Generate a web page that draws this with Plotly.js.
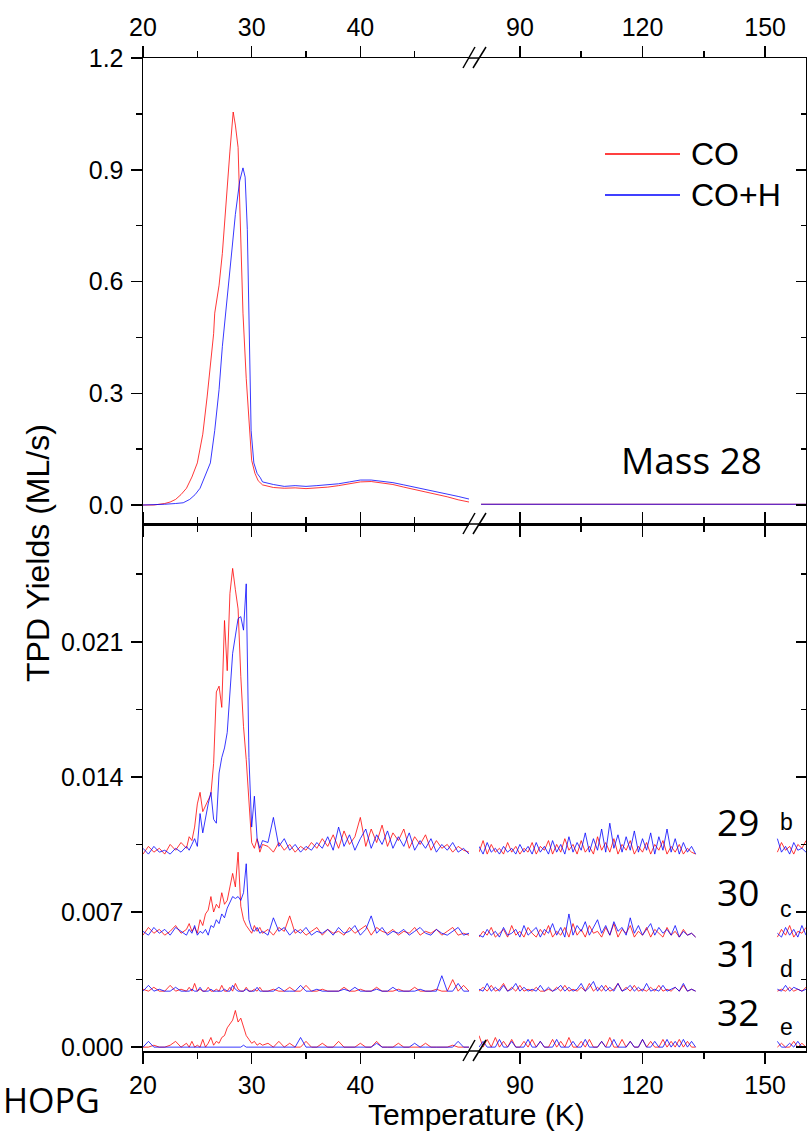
<!DOCTYPE html>
<html>
<head>
<meta charset="utf-8">
<script src="https://cdn.plot.ly/plotly-3.0.1.min.js"></script>
<style>html,body{margin:0;padding:0;background:#fff;}#chart{width:807px;height:1131px;}</style>
</head>
<body>
<div id="chart"></div>
<script>
// ---------------- DATA ----------------
// Mass 28 (top panel), left segment (20-50 K)
const m28_CO_T  = [20,21,22,22.5,23,23.5,24,24.5,25,25.5,25.9,26.2,26.5,26.6,27,27.3,27.7,28,28.3,28.5,28.75,29,29.2,29.5,29.7,30,30.3,30.6,31,32,33,34,35,36,37,38,39,40,41,42,43,44,45,46,47,48,49,50];
const m28_CO_Y  = [0,0,0.004,0.008,0.015,0.028,0.045,0.075,0.113,0.19,0.29,0.38,0.46,0.515,0.59,0.675,0.846,0.95,1.055,1.02,0.96,0.72,0.515,0.34,0.25,0.12,0.085,0.065,0.054,0.047,0.045,0.046,0.044,0.046,0.048,0.052,0.058,0.062,0.063,0.060,0.055,0.048,0.042,0.035,0.029,0.022,0.014,0.008];
const m28_COH_T = [20,21,22,23,23.7,24.3,24.8,25.25,25.7,26.2,26.6,27,27.3,27.6,27.85,28.2,28.5,28.9,29.2,29.4,29.6,29.8,29.95,30.2,30.5,30.8,31,32,33,34,35,36,37,38,39,40,41,42,43,44,45,46,47,48,49,50];
const m28_COH_Y = [0,0,0.002,0.004,0.006,0.015,0.028,0.045,0.075,0.113,0.2,0.31,0.425,0.52,0.6,0.69,0.78,0.87,0.905,0.88,0.74,0.425,0.2,0.113,0.085,0.073,0.062,0.055,0.050,0.052,0.050,0.052,0.054,0.057,0.062,0.067,0.067,0.064,0.060,0.054,0.048,0.042,0.036,0.030,0.023,0.016];
// Mass 28, right segment (80-160 K)
const m28_R_T     = [80.5,100,120,140,160];
const m28_CO_R_Y  = [0.002,0.002,0.002,0.002,0.002];
const m28_COH_R_Y = [0.002,0.002,0.002,0.002,0.002];

// Bottom panel sampling temperatures
const T_L = [20,20.5,21,21.5,22,22.5,23,23.5,24,
  24.25,24.5,24.75,25,25.25,25.5,25.75,
  26,26.25,26.5,26.75,27,27.25,27.5,
  27.75,28,28.25,28.5,28.75,29,29.25,
  29.5,29.75,30,30.25,30.5,30.75,31,
  31.5,32,32.5,33,33.5,34,34.5,35,35.5,36,
  36.5,37,37.5,38,38.5,39,39.5,40,40.5,41,
  41.5,42,42.5,43,43.5,44,44.5,45,45.5,46,
  46.5,47,47.5,48,48.5,49,49.5,50];
const T_R = [80,81,82,83,84,85,86,87,88,89,
  90,91,92,93,94,95,96,97,98,99,
  100,101,102,103,104,105,106,107,108,109,
  110,111,112,113,114,115,116,117,118,119,
  120,121,122,123,124,125,126,127,128,129,
  130,131,132,133];
const T_T = [153,154,155,156,157,158,159,160];

// Mass 29
const m29_CO_L = [0.0100,0.0104,0.0101,0.0103,0.0100,0.0105,0.0102,0.0106,0.0103,
  0.0109,0.0107,0.0114,0.0126,0.0132,0.0122,0.0125,
  0.0128,0.0131,0.0147,0.0184,0.0187,0.0176,0.0221,
  0.0195,0.0235,0.0248,0.0237,0.0227,0.0192,0.0166,
  0.0149,0.0128,0.0106,0.0103,0.0108,0.0101,0.0105,
  0.0104,0.0101,0.0106,0.0102,0.0105,0.0101,0.0104,0.0102,0.0106,0.0103,
  0.0108,0.0104,0.0110,0.0103,0.0112,0.0105,0.0109,0.0119,0.0104,0.0113,
  0.0106,0.0115,0.0104,0.0111,0.0107,0.0113,0.0103,0.0109,0.0105,0.0110,
  0.0102,0.0107,0.0103,0.0105,0.0101,0.0104,0.0102,0.0101];
const m29_COH_L = [0.0103,0.0100,0.0104,0.0101,0.0102,0.0100,0.0103,0.0101,0.0104,
  0.0102,0.0105,0.0108,0.0104,0.0121,0.0111,0.0119,
  0.0126,0.0132,0.0118,0.0116,0.0142,0.0150,0.0155,
  0.0163,0.0184,0.0204,0.0213,0.0222,0.0223,0.0216,
  0.0240,0.0150,0.0114,0.0130,0.0108,0.0103,0.0107,
  0.0106,0.0119,0.0104,0.0108,0.0102,0.0105,0.0101,0.0104,0.0102,0.0106,
  0.0103,0.0109,0.0102,0.0114,0.0104,0.0110,0.0102,0.0108,0.0113,0.0103,
  0.0110,0.0105,0.0112,0.0103,0.0109,0.0104,0.0111,0.0102,0.0107,0.0103,
  0.0108,0.0101,0.0105,0.0102,0.0106,0.0101,0.0103,0.0100];
const m29_CO_R = [0.0101,0.0107,0.0100,0.0105,0.0101,0.0103,0.0100,0.0106,0.0101,0.0104,
  0.0100,0.0103,0.0101,0.0106,0.0100,0.0104,0.0102,0.0107,0.0100,0.0105,
  0.0101,0.0108,0.0102,0.0105,0.0100,0.0107,0.0101,0.0104,0.0100,0.0109,
  0.0102,0.0106,0.0101,0.0108,0.0100,0.0105,0.0102,0.0107,0.0100,0.0104,
  0.0101,0.0106,0.0100,0.0105,0.0102,0.0107,0.0100,0.0104,0.0101,0.0105,
  0.0100,0.0103,0.0101,0.0100];
const m29_COH_R = [0.0104,0.0100,0.0106,0.0101,0.0103,0.0100,0.0104,0.0101,0.0103,0.0100,
  0.0105,0.0101,0.0104,0.0100,0.0106,0.0101,0.0104,0.0100,0.0107,0.0101,
  0.0105,0.0100,0.0109,0.0101,0.0106,0.0102,0.0111,0.0101,0.0108,0.0102,
  0.0113,0.0101,0.0116,0.0103,0.0110,0.0101,0.0109,0.0102,0.0112,0.0101,
  0.0108,0.0102,0.0111,0.0100,0.0109,0.0102,0.0113,0.0101,0.0108,0.0100,
  0.0106,0.0101,0.0104,0.0100];
const m29_CO_T  = [0.0101,0.0106,0.0102,0.0104,0.0100,0.0105,0.0103,0.0107];
const m29_COH_T = [0.0108,0.0101,0.0104,0.0100,0.0106,0.0102,0.0103,0.0101];

// Mass 30
const m30_CO_L = [0.0058,0.0062,0.0059,0.0061,0.0058,0.0060,0.0063,0.0059,0.0061,
  0.0064,0.0060,0.0062,0.0059,0.0066,0.0063,0.0069,
  0.0071,0.0078,0.0070,0.0074,0.0072,0.0080,0.0074,
  0.0076,0.0083,0.0090,0.0083,0.0101,0.0073,0.0066,
  0.0063,0.0061,0.0059,0.0063,0.0060,0.0062,0.0059,
  0.0061,0.0058,0.0062,0.0060,0.0068,0.0059,0.0061,0.0058,0.0060,0.0062,
  0.0058,0.0061,0.0059,0.0060,0.0058,0.0062,0.0059,0.0061,0.0063,0.0058,
  0.0062,0.0060,0.0059,0.0061,0.0058,0.0060,0.0059,0.0062,0.0058,0.0060,
  0.0059,0.0061,0.0058,0.0060,0.0062,0.0058,0.0059,0.0058];
const m30_COH_L = [0.0060,0.0058,0.0062,0.0059,0.0061,0.0058,0.0062,0.0060,0.0058,
  0.0061,0.0059,0.0063,0.0058,0.0060,0.0059,0.0061,
  0.0058,0.0063,0.0062,0.0066,0.0064,0.0069,0.0067,
  0.0072,0.0075,0.0078,0.0077,0.0078,0.0076,0.0080,
  0.0095,0.0066,0.0061,0.0060,0.0062,0.0059,0.0060,
  0.0058,0.0067,0.0060,0.0062,0.0058,0.0061,0.0059,0.0062,0.0058,0.0060,
  0.0059,0.0061,0.0058,0.0062,0.0059,0.0060,0.0063,0.0058,0.0061,0.0068,
  0.0059,0.0062,0.0058,0.0060,0.0059,0.0061,0.0058,0.0060,0.0062,0.0059,
  0.0058,0.0061,0.0059,0.0058,0.0060,0.0062,0.0058,0.0059];
const m30_CO_R = [0.0057,0.0060,0.0058,0.0062,0.0057,0.0059,0.0061,0.0057,0.0063,0.0058,
  0.0060,0.0057,0.0062,0.0059,0.0057,0.0061,0.0058,0.0063,0.0057,0.0060,
  0.0058,0.0062,0.0057,0.0064,0.0058,0.0061,0.0057,0.0063,0.0059,0.0060,
  0.0057,0.0062,0.0058,0.0064,0.0057,0.0061,0.0059,0.0063,0.0057,0.0060,
  0.0058,0.0062,0.0057,0.0061,0.0059,0.0057,0.0062,0.0058,0.0060,0.0057,
  0.0061,0.0058,0.0059,0.0057];
const m30_COH_R = [0.0058,0.0057,0.0061,0.0058,0.0060,0.0057,0.0062,0.0058,0.0059,0.0061,
  0.0057,0.0063,0.0058,0.0060,0.0062,0.0057,0.0061,0.0059,0.0064,0.0058,
  0.0062,0.0057,0.0069,0.0058,0.0063,0.0060,0.0065,0.0058,0.0062,0.0066,
  0.0059,0.0063,0.0058,0.0065,0.0060,0.0062,0.0058,0.0067,0.0059,0.0063,
  0.0058,0.0061,0.0064,0.0058,0.0062,0.0059,0.0061,0.0058,0.0063,0.0057,
  0.0060,0.0058,0.0059,0.0057];
const m30_CO_T  = [0.0057,0.0061,0.0058,0.0063,0.0057,0.0060,0.0059,0.0062];
const m30_COH_T = [0.0059,0.0057,0.0062,0.0058,0.0061,0.0057,0.0063,0.0058];

// Mass 31
const m31_CO_L = [0.0030,0.0029,0.0031,0.0029,0.0029,0.0032,0.0029,0.0030,0.0029,
  0.0031,0.0029,0.0033,0.0029,0.0030,0.0029,0.0029,
  0.0031,0.0029,0.0029,0.0030,0.0029,0.0032,0.0029,
  0.0029,0.0031,0.0029,0.0033,0.0030,0.0029,0.0029,
  0.0031,0.0029,0.0029,0.0030,0.0029,0.0031,0.0029,
  0.0029,0.0030,0.0029,0.0029,0.0031,0.0029,0.0029,0.0032,0.0029,0.0029,
  0.0030,0.0029,0.0029,0.0029,0.0031,0.0029,0.0029,0.0030,0.0029,0.0029,
  0.0031,0.0029,0.0029,0.0029,0.0030,0.0029,0.0029,0.0031,0.0029,0.0029,
  0.0029,0.0030,0.0029,0.0029,0.0035,0.0029,0.0032,0.0029];
const m31_COH_L = [0.0029,0.0032,0.0029,0.0030,0.0029,0.0029,0.0031,0.0029,0.0029,
  0.0029,0.0030,0.0029,0.0029,0.0031,0.0029,0.0029,
  0.0029,0.0030,0.0029,0.0029,0.0029,0.0029,0.0030,
  0.0029,0.0029,0.0032,0.0030,0.0029,0.0029,0.0029,
  0.0030,0.0029,0.0029,0.0029,0.0031,0.0029,0.0029,
  0.0029,0.0029,0.0031,0.0029,0.0029,0.0029,0.0032,0.0029,0.0029,0.0030,
  0.0029,0.0029,0.0029,0.0029,0.0030,0.0029,0.0031,0.0029,0.0029,0.0029,
  0.0030,0.0029,0.0029,0.0031,0.0029,0.0029,0.0029,0.0029,0.0030,0.0029,
  0.0029,0.0029,0.0037,0.0029,0.0029,0.0033,0.0029,0.0029];
const m31_CO_R = [0.0029,0.0031,0.0029,0.0032,0.0029,0.0030,0.0033,0.0029,0.0031,0.0029,
  0.0032,0.0029,0.0030,0.0029,0.0031,0.0029,0.0029,0.0030,0.0029,0.0031,
  0.0029,0.0032,0.0029,0.0030,0.0029,0.0031,0.0029,0.0033,0.0029,0.0031,
  0.0029,0.0032,0.0029,0.0030,0.0033,0.0029,0.0031,0.0029,0.0032,0.0029,
  0.0030,0.0029,0.0031,0.0029,0.0032,0.0029,0.0030,0.0029,0.0031,0.0029,
  0.0032,0.0029,0.0030,0.0029];
const m31_COH_R = [0.0030,0.0029,0.0033,0.0029,0.0031,0.0029,0.0032,0.0029,0.0030,0.0033,
  0.0029,0.0031,0.0029,0.0030,0.0029,0.0032,0.0029,0.0031,0.0029,0.0030,
  0.0032,0.0029,0.0031,0.0029,0.0030,0.0033,0.0029,0.0031,0.0034,0.0029,
  0.0032,0.0029,0.0031,0.0029,0.0033,0.0029,0.0030,0.0032,0.0029,0.0031,
  0.0029,0.0033,0.0029,0.0030,0.0029,0.0032,0.0029,0.0030,0.0031,0.0029,
  0.0033,0.0029,0.0030,0.0029];
const m31_CO_T  = [0.0029,0.0030,0.0029,0.0031,0.0029,0.0030,0.0029,0.0031];
const m31_COH_T = [0.0030,0.0029,0.0032,0.0029,0.0031,0.0030,0.0029,0.0030];

// Mass 32
const m32_CO_L = [0.0000,0.0000,0.0001,0.0000,0.0000,0.0001,0.0003,0.0000,0.0002,
  0.0000,0.0003,0.0000,0.0001,0.0000,0.0004,0.0000,
  0.0002,0.0005,0.0001,0.0003,0.0002,0.0005,0.0006,
  0.0010,0.0012,0.0014,0.0019,0.0013,0.0015,0.0010,
  0.0006,0.0004,0.0002,0.0003,0.0001,0.0002,0.0001,
  0.0002,0.0000,0.0003,0.0000,0.0002,0.0000,0.0000,0.0003,0.0000,0.0000,
  0.0002,0.0000,0.0000,0.0003,0.0000,0.0000,0.0000,0.0002,0.0000,0.0000,
  0.0003,0.0000,0.0000,0.0000,0.0002,0.0000,0.0000,0.0000,0.0000,0.0002,
  0.0000,0.0000,0.0000,0.0000,0.0001,0.0000,0.0000,0.0000];
const m32_COH_L = [0.0000,0.0003,0.0000,0.0000,0.0000,0.0000,0.0000,0.0000,0.0000,
  0.0000,0.0000,0.0000,0.0000,0.0000,0.0000,0.0000,
  0.0000,0.0000,0.0000,0.0000,0.0000,0.0000,0.0000,
  0.0000,0.0000,0.0000,0.0000,0.0000,0.0000,0.0001,
  0.0000,0.0000,0.0000,0.0000,0.0000,0.0000,0.0000,
  0.0000,0.0000,0.0000,0.0000,0.0000,0.0000,0.0005,0.0000,0.0000,0.0000,
  0.0000,0.0000,0.0000,0.0000,0.0000,0.0000,0.0000,0.0000,0.0000,0.0000,
  0.0002,0.0000,0.0000,0.0000,0.0000,0.0000,0.0000,0.0002,0.0000,0.0000,
  0.0000,0.0000,0.0000,0.0000,0.0000,0.0003,0.0000,0.0000];
const m32_CO_R = [0.0006,0.0000,0.0004,0.0000,0.0005,0.0000,0.0003,0.0000,0.0004,0.0000,
  0.0000,0.0003,0.0000,0.0004,0.0000,0.0003,0.0000,0.0000,0.0004,0.0000,
  0.0003,0.0000,0.0005,0.0000,0.0000,0.0003,0.0000,0.0004,0.0000,0.0000,
  0.0003,0.0000,0.0005,0.0000,0.0000,0.0004,0.0000,0.0003,0.0000,0.0000,
  0.0004,0.0000,0.0003,0.0000,0.0000,0.0004,0.0000,0.0003,0.0000,0.0004,
  0.0000,0.0003,0.0000,0.0000];
const m32_COH_R = [0.0000,0.0003,0.0000,0.0000,0.0000,0.0004,0.0000,0.0000,0.0003,0.0000,
  0.0000,0.0000,0.0004,0.0000,0.0000,0.0003,0.0000,0.0000,0.0000,0.0004,
  0.0000,0.0000,0.0000,0.0003,0.0000,0.0000,0.0004,0.0000,0.0000,0.0000,
  0.0003,0.0000,0.0000,0.0004,0.0000,0.0000,0.0000,0.0003,0.0000,0.0000,
  0.0004,0.0000,0.0000,0.0003,0.0000,0.0000,0.0004,0.0000,0.0003,0.0000,
  0.0004,0.0000,0.0003,0.0000];
const m32_CO_T  = [0.0000,0.0002,0.0000,0.0000,0.0003,0.0000,0.0002,0.0000];
const m32_COH_T = [0.0003,0.0000,0.0000,0.0002,0.0000,0.0003,0.0000,0.0000];

// Labels
const seriesNames = ['CO', 'CO+H'];
const massLabels = ['29', '30', '31', '32'];
const panelLetters = ['b', 'c', 'd', 'e'];
const xTicksL = [20, 30, 40];
const xTicksR = [90, 120, 150];
const yTicksTop = [0, 0.3, 0.6, 0.9, 1.2];
const yTicksBot = [0, 0.007, 0.014, 0.021];

// ---------------- STYLE / LAYOUT ----------------
const RED = 'rgb(255,0,0)', BLUE = 'rgb(0,0,255)';
const W = 807, H = 1131, ML = 143, MR = 1, MT = 58, MB = 80;
const PW = W - ML - MR, PH = H - MT - MB;
const px = v => (v - ML) / PW;          // pixel x -> paper
const py = v => (H - MB - v) / PH;      // pixel y -> paper
const dL = [0, px(469)], dR = [px(479), 1];
const ySplit = py(524);

const traces = [];
function add(x, y, color, xa, ya) {
  traces.push({x: x, y: y, xaxis: xa, yaxis: ya, type: 'scatter', mode: 'lines',
    line: {color: color, width: 1}, opacity: 0.78, hoverinfo: 'skip', showlegend: false});
}
// top panel
add(m28_CO_T, m28_CO_Y, RED, 'x3', 'y');
add(m28_COH_T, m28_COH_Y, BLUE, 'x3', 'y');
add(m28_R_T, m28_CO_R_Y, RED, 'x4', 'y');
add(m28_R_T, m28_COH_R_Y, BLUE, 'x4', 'y');
// bottom panel
const bottomSets = [
  [m29_CO_L, m29_COH_L, m29_CO_R, m29_COH_R, m29_CO_T, m29_COH_T],
  [m30_CO_L, m30_COH_L, m30_CO_R, m30_COH_R, m30_CO_T, m30_COH_T],
  [m31_CO_L, m31_COH_L, m31_CO_R, m31_COH_R, m31_CO_T, m31_COH_T],
  [m32_CO_L, m32_COH_L, m32_CO_R, m32_COH_R, m32_CO_T, m32_COH_T]
];
bottomSets.forEach(s => {
  add(T_L, s[0], RED, 'x', 'y2');
  add(T_L, s[1], BLUE, 'x', 'y2');
  add(T_R, s[2], RED, 'x2', 'y2');
  add(T_R, s[3], BLUE, 'x2', 'y2');
  add(T_T, s[4], RED, 'x2', 'y2');
  add(T_T, s[5], BLUE, 'x2', 'y2');
});
// empty traces to realise the right-hand frame axes
traces.push({x: [], y: [], xaxis: 'x4', yaxis: 'y3', type: 'scatter', mode: 'lines', showlegend: false, hoverinfo: 'skip'});
traces.push({x: [], y: [], xaxis: 'x2', yaxis: 'y4', type: 'scatter', mode: 'lines', showlegend: false, hoverinfo: 'skip'});

const FONT = 'Liberation Sans, Arial, sans-serif';
const tickFont = {family: FONT, size: 25, color: '#000'};
const axBase = {showgrid: false, zeroline: false, showline: true, linecolor: '#000', linewidth: 1.5,
  ticks: 'outside', ticklen: 11, tickwidth: 1.5, tickcolor: '#000', tickfont: tickFont, fixedrange: true};

function xax(dom, range, tv, minorTv, anchor, side) {
  return Object.assign({}, axBase, {domain: dom, range: range, anchor: anchor, side: side,
    tickmode: 'array', tickvals: tv, mirror: 'ticks', ticklabelstandoff: 0,
    minor: {tickmode: 'array', tickvals: minorTv, ticks: 'outside', ticklen: 6, tickwidth: 1.5, tickcolor: '#000'}});
}
function yax(dom, range, tv, fmt, minorTv) {
  return Object.assign({}, axBase, {domain: dom, range: range, anchor: 'x',
    tickmode: 'array', tickvals: tv, tickformat: fmt, ticklabelstandoff: 2,
    minor: {tickmode: 'array', tickvals: minorTv, ticks: 'outside', ticklen: 6, tickwidth: 1.5, tickcolor: '#000'}});
}
function yaxRight(over, anchor, dom, range, tv, minorTv) {
  return {overlaying: over, anchor: anchor, side: 'right', domain: dom, range: range,
    showgrid: false, zeroline: false, showline: true, linecolor: '#000', linewidth: 1.5,
    showticklabels: false, ticks: 'inside', ticklen: 10, tickwidth: 1.5, tickcolor: '#000',
    tickmode: 'array', tickvals: tv, fixedrange: true,
    minor: {tickmode: 'array', tickvals: minorTv, ticks: 'inside', ticklen: 5, tickwidth: 1.5, tickcolor: '#000'}};
}

const yTopRange = [-0.051, 1.2], yBotRange = [-0.0002, 0.0271];
const yTopMinor = [0.15, 0.45, 0.75, 1.05], yBotMinor = [0.0035, 0.0105, 0.0175, 0.0245];

// frame segments bridging the axis break and the "//" marks
const shapes = [];
[1, ySplit, 0].forEach(yy => {
  shapes.push({type: 'line', xref: 'paper', yref: 'paper', x0: dL[1], x1: dR[0], y0: yy, y1: yy,
    line: {color: '#000', width: 1.5}});
  const xc = px(474);
  [[-11, 1], [-1, 12]].forEach(p => {
    shapes.push({type: 'line', xref: 'paper', yref: 'paper', xsizemode: 'pixel', ysizemode: 'pixel',
      xanchor: xc, yanchor: yy, x0: p[0], x1: p[1], y0: -10, y1: 11, line: {color: '#000', width: 1.5}});
  });
});
// legend sample lines
shapes.push({type: 'line', xref: 'paper', yref: 'paper', x0: px(605), x1: px(680), y0: py(154), y1: py(154), line: {color: RED, width: 1.5}});
shapes.push({type: 'line', xref: 'paper', yref: 'paper', x0: px(605), x1: px(680), y0: py(195), y1: py(195), line: {color: BLUE, width: 1.5}});

const OPEN = 'Open Sans, Noto Sans, sans-serif';
const ann = (text, x, y, size, family, xanchor, extra) => Object.assign({text: text, xref: 'paper', yref: 'paper',
  x: px(x), y: py(y), xanchor: xanchor || 'center', yanchor: 'middle', showarrow: false,
  font: {family: family, size: size, color: '#000'}}, extra || {});

const annotations = [
  ann(seriesNames[0], 689, 154, 32, FONT, 'left'),
  ann(seriesNames[1], 689, 195, 32, FONT, 'left'),
  ann('Mass 28', 691, 459, 37, OPEN),
  ann('TPD Yields (ML/s)', 38, 553, 32, FONT, 'center', {textangle: -90}),
  ann('Temperature (K)', 476, 1114, 30, FONT),
  ann('HOPG', 1, 1100, 34, OPEN, 'left')
];
const massY = [821, 891, 952, 1011];
const letterY = [822, 909, 969, 1027];
massLabels.forEach((m, i) => annotations.push(ann(m, 738, massY[i], 37, OPEN)));
panelLetters.forEach((l, i) => annotations.push(ann(l, 786, letterY[i], 23, FONT)));

const layout = {
  width: W, height: H, margin: {l: ML, r: MR, t: MT, b: MB, pad: 0},
  paper_bgcolor: '#fff', plot_bgcolor: 'rgba(0,0,0,0)', showlegend: false,
  xaxis:  xax(dL, [20, 50], xTicksL, [25, 35, 45], 'y2', 'bottom'),
  xaxis2: xax(dR, [80, 160], xTicksR, [105, 135], 'y2', 'bottom'),
  xaxis3: xax(dL, [20, 50], xTicksL, [25, 35, 45], 'y', 'top'),
  xaxis4: xax(dR, [80, 160], xTicksR, [105, 135], 'y', 'top'),
  yaxis:  yax([ySplit, 1], yTopRange, yTicksTop, '.1f', yTopMinor),
  yaxis2: yax([0, ySplit], yBotRange, yTicksBot, '.3f', yBotMinor),
  yaxis3: yaxRight('y', 'x4', [ySplit, 1], yTopRange, yTicksTop, yTopMinor),
  yaxis4: yaxRight('y2', 'x2', [0, ySplit], yBotRange, yTicksBot, yBotMinor),
  shapes: shapes,
  annotations: annotations
};

Plotly.newPlot('chart', traces, layout, {staticPlot: true, displayModeBar: false});
</script>
</body>
</html>
